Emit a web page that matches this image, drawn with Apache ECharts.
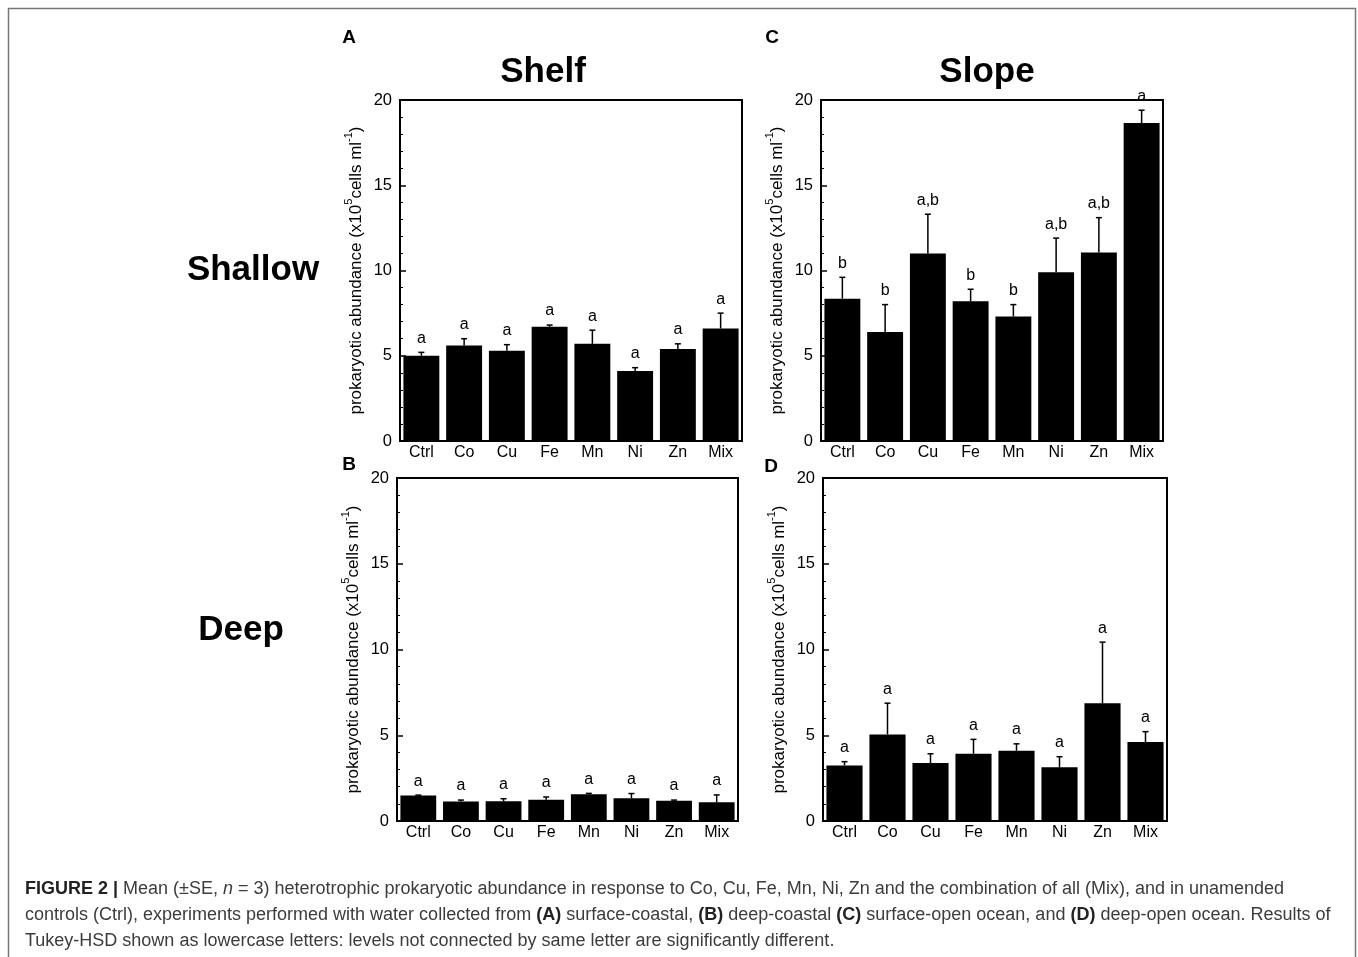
<!DOCTYPE html>
<html>
<head>
<meta charset="utf-8">
<script src="https://cdn.jsdelivr.net/npm/echarts@6/dist/echarts.min.js"></script>
<style>
  html, body { margin: 0; padding: 0; background: #fff; }
  #main { width: 1358px; height: 957px; }
</style>
</head>
<body>
<div id="main"></div>
<script>
// treatments on the x axis
var categories = ['Ctrl', 'Co', 'Cu', 'Fe', 'Mn', 'Ni', 'Zn', 'Mix'];
var yTicks = [0, 5, 10, 15, 20];

// A: shelf / shallow (surface-coastal)
var shelfShallowMean = [5.0, 5.6, 5.3, 6.7, 5.7, 4.1, 5.4, 6.6];
var shelfShallowSE = [0.2, 0.4, 0.35, 0.1, 0.8, 0.2, 0.3, 0.9];
var shelfShallowLetters = ['a', 'a', 'a', 'a', 'a', 'a', 'a', 'a'];

// B: shelf / deep (deep-coastal)
var shelfDeepMean = [1.48, 1.13, 1.15, 1.24, 1.56, 1.32, 1.18, 1.09];
var shelfDeepSE = [0.03, 0.09, 0.15, 0.16, 0.05, 0.28, 0.04, 0.43];
var shelfDeepLetters = ['a', 'a', 'a', 'a', 'a', 'a', 'a', 'a'];

// C: slope / shallow (surface-open ocean)
var slopeShallowMean = [8.35, 6.4, 11.0, 8.2, 7.3, 9.9, 11.05, 18.65];
var slopeShallowSE = [1.25, 1.6, 2.3, 0.7, 0.7, 2.0, 2.05, 0.75];
var slopeShallowLetters = ['b', 'b', 'a,b', 'b', 'b', 'a,b', 'a,b', 'a'];

// D: slope / deep (deep-open ocean)
var slopeDeepMean = [3.24, 5.05, 3.38, 3.92, 4.1, 3.13, 6.86, 4.6];
var slopeDeepSE = [0.22, 1.82, 0.54, 0.84, 0.4, 0.62, 3.57, 0.61];
var slopeDeepLetters = ['a', 'a', 'a', 'a', 'a', 'a', 'a', 'a'];

var FONT = '"Liberation Sans", Arial, Helvetica, sans-serif';

var panels = [
	{ mean: shelfShallowMean, se: shelfShallowSE, letters: shelfShallowLetters, grid: { left: 400, top: 100, width: 342, height: 341 } },
	{ mean: shelfDeepMean, se: shelfDeepSE, letters: shelfDeepLetters, grid: { left: 397, top: 478, width: 341, height: 343 } },
	{ mean: slopeShallowMean, se: slopeShallowSE, letters: slopeShallowLetters, grid: { left: 821, top: 100, width: 342, height: 341 } },
	{ mean: slopeDeepMean, se: slopeDeepSE, letters: slopeDeepLetters, grid: { left: 823, top: 478, width: 344, height: 343 } }
];

var grids = [], xAxes = [], yAxes = [], series = [];

panels.forEach(function (p, i) {
	grids.push({
		left: p.grid.left, top: p.grid.top, width: p.grid.width, height: p.grid.height,
		show: true, borderColor: '#000', borderWidth: 2, backgroundColor: 'transparent'
	});
	xAxes.push({
		type: 'category', gridIndex: i, data: categories,
		axisLine: { lineStyle: { color: '#000', width: 2 } },
		axisTick: { show: false },
		axisLabel: { color: '#000', fontSize: 16, fontFamily: FONT, margin: 4 }
	});
	yAxes.push({
		type: 'value', gridIndex: i, min: yTicks[0], max: yTicks[yTicks.length - 1], interval: 5,
		name: '{t|prokaryotic abundance (x10}{s|5}{t|cells ml}{s|-1}{t|)}',
		nameLocation: 'middle', nameGap: 35,
		nameTextStyle: {
			color: '#000', fontFamily: FONT,
			rich: {
				t: { fontSize: 17, fontFamily: FONT, color: '#000', lineHeight: 22, verticalAlign: 'bottom' },
				s: { fontSize: 11, fontFamily: FONT, color: '#000', lineHeight: 22, verticalAlign: 'top' }
			}
		},
		axisLine: { show: true, lineStyle: { color: '#000', width: 2 } },
		axisTick: { show: true, inside: true, length: 6, lineStyle: { color: '#000', width: 1.5 } },
		minorTick: { show: true, splitNumber: 5, length: 3, lineStyle: { color: '#000', width: 1 } },
		splitLine: { show: false },
		axisLabel: { color: '#000', fontSize: 16.5, fontFamily: FONT, margin: 8 }
	});
	series.push({
		type: 'bar', xAxisIndex: i, yAxisIndex: i, data: p.mean,
		barCategoryGap: '16%',
		itemStyle: { color: '#000' },
		silent: true
	});
	// error bars (upper only) with significance letters
	series.push({
		type: 'custom', xAxisIndex: i, yAxisIndex: i, silent: true, z: 5,
		data: p.mean.map(function (m, k) { return [k, m, p.se[k]]; }),
		encode: { x: 0, y: 1 },
		renderItem: function (params, api) {
			var k = api.value(0), m = api.value(1), e = api.value(2);
			var base = api.coord([k, m]);
			var top = api.coord([k, m + e]);
			var cap = 3;
			return {
				type: 'group',
				children: [
					{ type: 'line', shape: { x1: base[0], y1: base[1], x2: top[0], y2: top[1] }, style: { stroke: '#000', lineWidth: 1.5 } },
					{ type: 'line', shape: { x1: top[0] - cap, y1: top[1], x2: top[0] + cap, y2: top[1] }, style: { stroke: '#000', lineWidth: 1.5 } },
					{ type: 'text', x: top[0], y: top[1] - 6, style: { text: p.letters[params.dataIndex], fill: '#000', font: '16px ' + FONT, textAlign: 'center', textVerticalAlign: 'bottom' } }
				]
			};
		}
	});
});

var captionStyle = {
	fontSize: 18, fontFamily: FONT, fill: '#3c3c3c',
	rich: {
		b: { fontSize: 18, fontFamily: FONT, fontWeight: 'bold', fill: '#222' },
		i: { fontSize: 18, fontFamily: FONT, fontStyle: 'italic', fill: '#3c3c3c' }
	}
};
var captionLines = [
	'{b|FIGURE 2 |} Mean (±SE, {i|n} = 3) heterotrophic prokaryotic abundance in response to Co, Cu, Fe, Mn, Ni, Zn and the combination of all (Mix), and in unamended',
	'controls (Ctrl), experiments performed with water collected from {b|(A)} surface-coastal, {b|(B)} deep-coastal {b|(C)} surface-open ocean, and {b|(D)} deep-open ocean. Results of',
	'Tukey-HSD shown as lowercase letters: levels not connected by same letter are significantly different.'
];

var graphics = [
	{ type: 'rect', shape: { x: 8.5, y: 8.5, width: 1347, height: 960 }, style: { fill: 'none', stroke: '#777', lineWidth: 1.5 }, silent: true }
];
captionLines.forEach(function (line, j) {
	graphics.push({
		type: 'text', left: 25, top: 880 + j * 26, silent: true,
		style: Object.assign({ text: line }, captionStyle)
	});
});

function heading(text, x, y, size, align) {
	return {
		type: 'text', x: x, y: y, silent: true,
		style: { text: text, fill: '#000', font: 'bold ' + size + 'px ' + FONT, textAlign: align || 'center', textVerticalAlign: 'middle' }
	};
}
graphics.push(heading('A', 349, 38, 19));
graphics.push(heading('C', 772, 38, 19));
graphics.push(heading('B', 349, 465, 19));
graphics.push(heading('D', 771, 467, 19));
graphics.push(heading('Shelf', 543, 72, 35));
graphics.push(heading('Slope', 987, 72, 35));
graphics.push(heading('Shallow', 253, 270, 35));
graphics.push(heading('Deep', 241, 630, 35));

var chart = echarts.init(document.getElementById('main'), null, { renderer: 'canvas' });
chart.setOption({
	backgroundColor: '#fff',
	animation: false,
	grid: grids,
	xAxis: xAxes,
	yAxis: yAxes,
	series: series,
	graphic: graphics
});
</script>
</body>
</html>
